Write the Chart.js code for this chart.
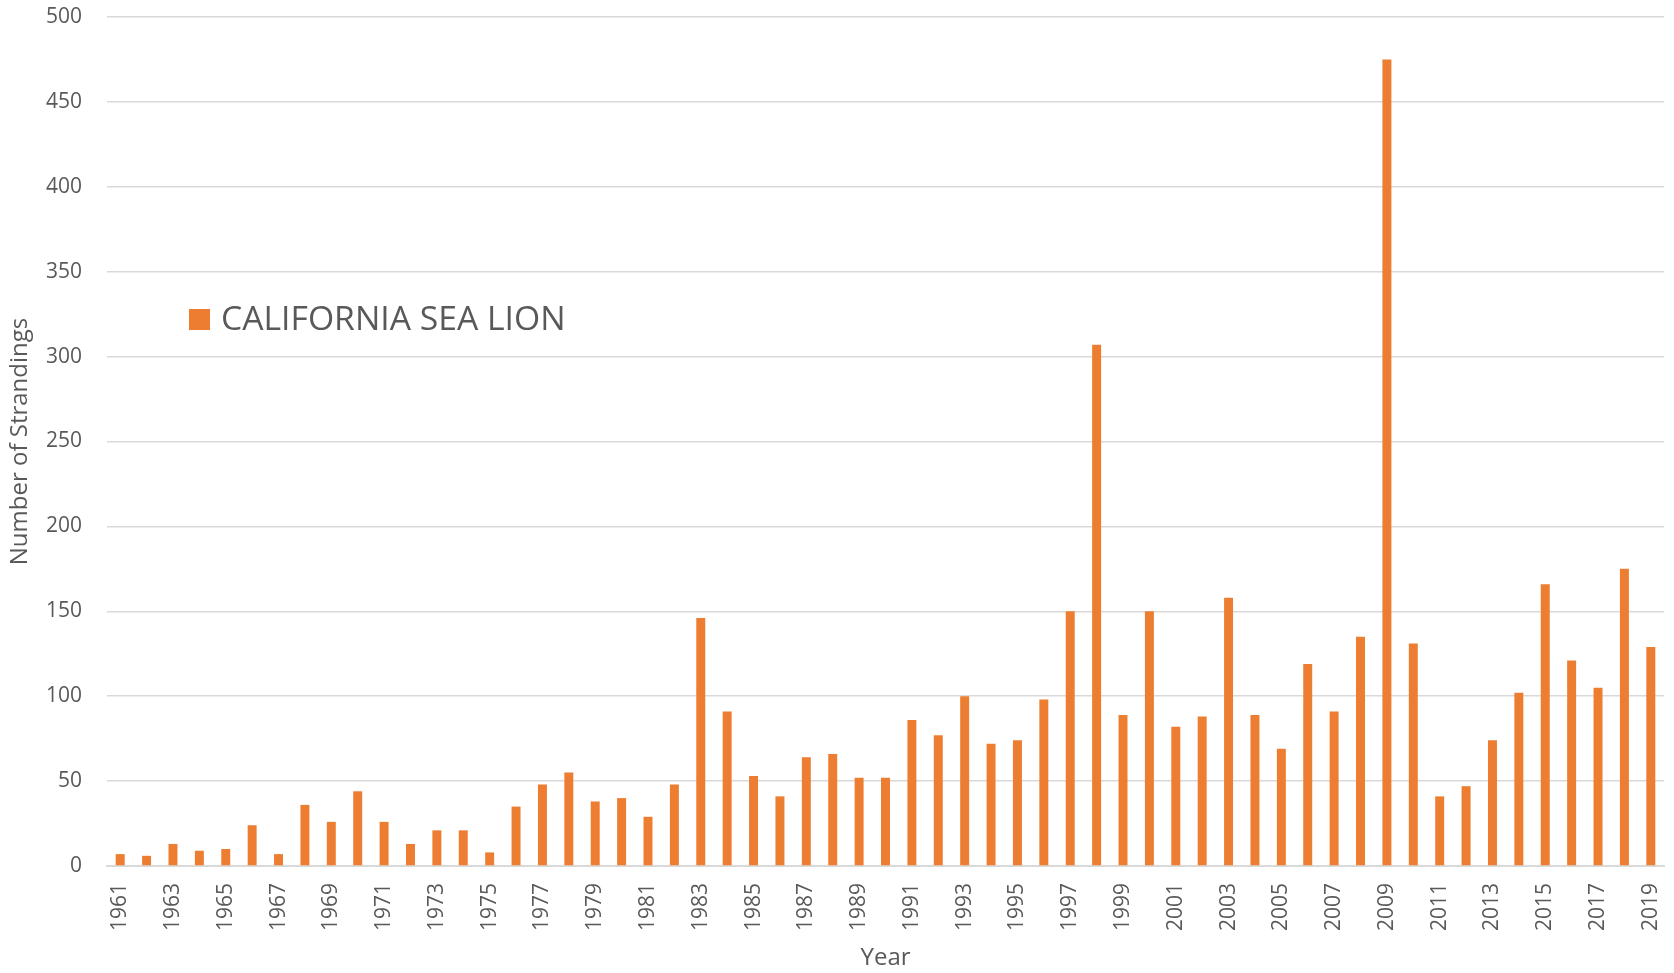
<!DOCTYPE html>
<html>
<head>
<meta charset="utf-8">
<script src="https://cdn.jsdelivr.net/npm/chart.js@4"></script>
<style>
  html, body { margin: 0; padding: 0; background: #ffffff; }
  #wrap { width: 1674px; height: 973px; }
</style>
</head>
<body>
<div id="wrap"><canvas id="strandingsChart" width="1674" height="973"></canvas></div>
<script>
// years on the x axis
const years = [
  '1961','1962','1963','1964','1965','1966','1967','1968','1969','1970',
  '1971','1972','1973','1974','1975','1976','1977','1978','1979','1980',
  '1981','1982','1983','1984','1985','1986','1987','1988','1989','1990',
  '1991','1992','1993','1994','1995','1996','1997','1998','1999','2000',
  '2001','2002','2003','2004','2005','2006','2007','2008','2009','2010',
  '2011','2012','2013','2014','2015','2016','2017','2018','2019'
];

// strandings per year
const seaLion = [
  7, 6, 13, 9, 10, 24, 7, 36, 26, 44,
  26, 13, 21, 21, 8, 35, 48, 55, 38, 40,
  29, 48, 146, 91, 53, 41, 64, 66, 52, 52,
  86, 77, 100, 72, 74, 98, 150, 307, 89, 150,
  82, 88, 158, 89, 69, 119, 91, 135, 475, 131,
  41, 47, 74, 102, 166, 121, 105, 175, 129
];

const seriesName = 'CALIFORNIA SEA LION';
const yTicks = [0, 50, 100, 150, 200, 250, 300, 350, 400, 450, 500];

const barColor = '#ED7D31';
const textColor = '#595959';
const gridColor = '#D9D9D9';

// legend drawn inside the plot, left side
const insideLegend = {
  id: 'insideLegend',
  afterDraw(chart) {
    const ctx = chart.ctx;
    const area = chart.chartArea;
    const x = area.left + 82;
    const y = area.top + 302;
    ctx.save();
    ctx.fillStyle = barColor;
    ctx.fillRect(x, y - 10, 21, 21);
    ctx.fillStyle = textColor;
    ctx.font = '33.7px "Open Sans"';
    ctx.textBaseline = 'middle';
    ctx.fillText(seriesName, x + 32, y + 1);
    ctx.restore();
  }
};

const data = {
  labels: years,
  datasets: [
    {
      label: seriesName,
      data: seaLion,
      backgroundColor: barColor,
      borderWidth: 0,
      barPercentage: 0.34,
      categoryPercentage: 1.0,
    }
  ]
};

const config = {
  type: 'bar',
  data: data,
  options: {
    responsive: false,
    animation: false,
    layout: {
      padding: 0
    },
    plugins: {
      legend: { display: false },
      title: { display: false },
      tooltip: { enabled: false }
    },
    scales: {
      x: {
        grid: { display: false, drawTicks: false },
        border: { display: true, color: gridColor, width: 2 },
        ticks: {
          autoSkip: false,
          maxRotation: 90,
          minRotation: 90,
          padding: 17,
          color: textColor,
          font: { family: 'Open Sans', size: 21 },
          callback: function (value, index) {
            return index % 2 === 0 ? this.getLabelForValue(value) : '';
          }
        },
        title: {
          display: true,
          text: 'Year',
          color: textColor,
          font: { family: 'Open Sans', size: 24 },
          padding: { top: 0, bottom: 0 }
        },
        // fix the band under the plot and the right margin
        afterFit: (scale) => {
          scale.height = 107;
          scale.paddingLeft = 0;
          scale.paddingRight = 10;
        }
      },
      y: {
        min: 0,
        max: 500,
        afterBuildTicks: (axis) => {
          axis.ticks = yTicks.map(v => ({ value: v }));
        },
        grid: { color: gridColor, lineWidth: 1.5, drawTicks: false },
        border: { display: false },
        ticks: {
          padding: 25,
          color: textColor,
          font: { family: 'Open Sans', size: 21 }
        },
        title: {
          display: true,
          text: 'Number of Strandings',
          color: textColor,
          font: { family: 'Open Sans', size: 24 },
          padding: { top: 6, bottom: 0 }
        },
        // fix the band left of the plot and the top margin
        afterFit: (scale) => {
          scale.width = 107;
          scale.paddingTop = 17;
          scale.paddingBottom = 0;
        }
      }
    }
  },
  plugins: [insideLegend]
};

const chartCanvas = document.getElementById('strandingsChart').getContext('2d');
new Chart(chartCanvas, config);
</script>
</body>
</html>
